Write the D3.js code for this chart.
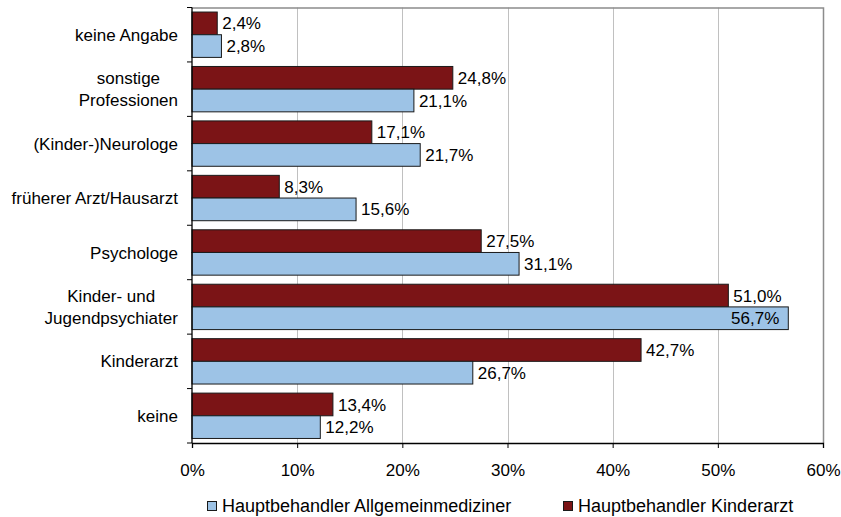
<!DOCTYPE html>
<html>
<head>
<meta charset="utf-8">
<script src="https://cdn.jsdelivr.net/npm/d3@7"></script>
<style>
  html, body { margin: 0; padding: 0; background: #fff; }
  svg { display: block; font-family: "Liberation Sans", Arial, sans-serif; }
</style>
</head>
<body>
<svg id="chart" width="841" height="517"></svg>
<script>
// Categories, top to bottom (lines split for multi-line labels)
const categories = [
  ["keine Angabe"],
  ["sonstige", "Professionen"],
  ["(Kinder-)Neurologe"],
  ["früherer Arzt/Hausarzt"],
  ["Psychologe"],
  ["Kinder- und", "Jugendpsychiater"],
  ["Kinderarzt"],
  ["keine"]
];
// Percent values per series, same order as categories
const kinderarzt = [2.4, 24.8, 17.1, 8.3, 27.5, 51.0, 42.7, 13.4];
const allgemeinmediziner = [2.8, 21.1, 21.7, 15.6, 31.1, 56.7, 26.7, 12.2];
const seriesNames = ["Hauptbehandler Kinderarzt", "Hauptbehandler Allgemeinmediziner"];
const xTicks = [0, 10, 20, 30, 40, 50, 60];

const colors = { "Hauptbehandler Kinderarzt": "#7b1416", "Hauptbehandler Allgemeinmediziner": "#9dc3e6" };
const seriesValues = { "Hauptbehandler Kinderarzt": kinderarzt, "Hauptbehandler Allgemeinmediziner": allgemeinmediziner };

const svg = d3.select("#chart");
const plot = { left: 192, right: 823, top: 7.5, bottom: 443 };
const fontSize = 17;

const x = d3.scaleLinear().domain([0, 60]).range([plot.left, plot.right]);
const catKeys = categories.map(c => c.join(" "));
const y = d3.scaleBand().domain(catKeys).range([plot.top, plot.bottom]).padding(0);
const ySub = d3.scaleBand().domain(seriesNames).range([0, y.bandwidth()]).paddingInner(0).paddingOuter(0.2);

const fmt = v => d3.format(".1f")(v).replace(".", ",") + "%";

// Grid lines
svg.append("g").selectAll("line").data(xTicks.slice(1, -1)).join("line")
  .attr("x1", d => Math.round(x(d)) + 0.5).attr("x2", d => Math.round(x(d)) + 0.5)
  .attr("y1", plot.top).attr("y2", plot.bottom)
  .attr("stroke", "#c0c0c0").attr("stroke-width", 1);

// Plot frame (top and right)
svg.append("path")
  .attr("d", `M${plot.left},${plot.top + 0.5}H${plot.right + 0.5}V${plot.bottom}`)
  .attr("fill", "none").attr("stroke", "#8c8c8c").attr("stroke-width", 1.5);

// Bars
const groups = svg.append("g").selectAll("g").data(catKeys).join("g")
  .attr("transform", d => `translate(0,${y(d)})`);

groups.each(function(cat, i) {
  const g = d3.select(this);
  seriesNames.forEach(s => {
    const v = seriesValues[s][i];
    const y0 = ySub(s);
    const h = ySub.bandwidth();
    g.append("rect")
      .attr("x", x(0)).attr("y", y0)
      .attr("width", x(v) - x(0)).attr("height", h)
      .attr("fill", colors[s]).attr("stroke", "#1a1a1a").attr("stroke-width", 1);
    const t = g.append("text")
      .attr("y", y0 + h / 2).attr("dy", "0.36em")
      .attr("font-size", fontSize).attr("fill", "#000")
      .text(fmt(v));
    const w = t.node().getComputedTextLength();
    if (x(v) + 5 + w > plot.right) {
      t.attr("x", x(v) - 9).attr("text-anchor", "end");
    } else {
      t.attr("x", x(v) + 5);
    }
  });
});

// X axis
const xAxis = d3.axisBottom(x).tickValues(xTicks).tickFormat(d => d + "%").tickSize(5).tickPadding(16);
const gx = svg.append("g").attr("transform", `translate(0,${plot.bottom})`).call(xAxis);
gx.select(".domain").attr("stroke", "#000").attr("stroke-width", 1.3);
gx.selectAll(".tick line").attr("stroke", "#000");
gx.selectAll("text").attr("font-size", fontSize).attr("font-family", "Liberation Sans, Arial, sans-serif").attr("fill", "#000");

// Y axis line with ticks at band boundaries
svg.append("line")
  .attr("x1", plot.left).attr("x2", plot.left)
  .attr("y1", plot.top).attr("y2", plot.bottom)
  .attr("stroke", "#000").attr("stroke-width", 1.3);
const bounds = catKeys.map(c => y(c)).concat([plot.bottom]);
svg.append("g").selectAll("line").data(bounds).join("line")
  .attr("x1", plot.left - 5).attr("x2", plot.left)
  .attr("y1", d => d).attr("y2", d => d)
  .attr("stroke", "#000").attr("stroke-width", 1);

// Category labels (centered block, right-aligned to the axis)
const lineH = 22;
categories.forEach((lines, i) => {
  const cy = y(catKeys[i]) + y.bandwidth() / 2;
  const t = svg.append("text").attr("font-size", fontSize).attr("fill", "#000").attr("text-anchor", "middle");
  lines.forEach((ln, j) => {
    t.append("tspan").attr("x", 0)
      .attr("y", cy + (j - (lines.length - 1) / 2) * lineH)
      .attr("dy", "0.36em").text(ln);
  });
  const w = t.node().getBBox().width;
  t.attr("transform", `translate(${178 - w / 2},0)`);
});

// Legend
const legendItems = [
  { name: "Hauptbehandler Allgemeinmediziner", x: 207 },
  { name: "Hauptbehandler Kinderarzt", x: 563 }
];
const lg = svg.append("g").selectAll("g").data(legendItems).join("g")
  .attr("transform", d => `translate(${d.x},501)`);
lg.append("rect").attr("x", 0.5).attr("y", 0.5).attr("width", 9).attr("height", 9)
  .attr("fill", d => colors[d.name]).attr("stroke", "#1a1a1a");
lg.append("text").attr("x", 15).attr("y", 5).attr("dy", "0.36em")
  .attr("font-size", 18).attr("fill", "#000").text(d => d.name);
</script>
</body>
</html>
